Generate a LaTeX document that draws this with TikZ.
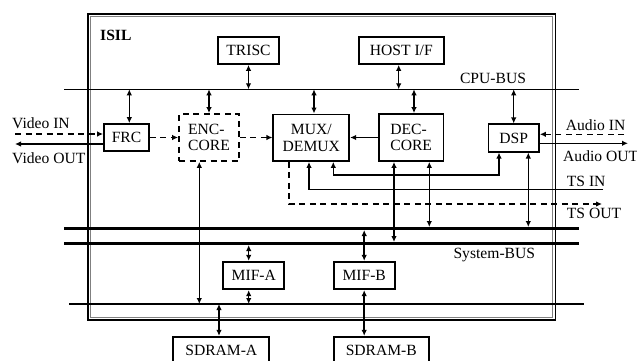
\documentclass[tikz,border=0pt]{standalone}
\usepackage{fontspec}
\setmainfont{Liberation Serif}
\usetikzlibrary{arrows.meta}
\begin{document}
\begin{tikzpicture}[x=1pt,y=-1pt,
  box/.style={draw,line width=1.7pt,inner sep=0pt,align=center},
  dbox/.style={box,dash pattern=on 6pt off 4.5pt},
  conn/.style={line width=1.5pt},
  dconn/.style={conn,dash pattern=on 6pt off 4.5pt},
  arr/.style={-{Latex[length=6pt,width=5.5pt]}},
  both/.style={{Latex[length=6pt,width=5.5pt]}-{Latex[length=6pt,width=5.5pt]}},
  lbl/.style={inner sep=0pt,anchor=west},
  font=\fontsize{15.6}{16.6}\selectfont]
\useasboundingbox (0,0) rectangle (637,361);

% chip outline
\draw[line width=1.6pt] (88,14) rectangle (555.5,320);
\draw[gray,line width=1pt] (90.6,16.6) rectangle (552.9,317.4);
\node[lbl,font=\fontsize{15.6}{16.6}\selectfont\bfseries] (isil) at (100,35) {ISIL};

% buses
\coordinate (cpuL) at (64,89.3);   \coordinate (cpuR) at (578.7,89.3);
\coordinate (sysAL) at (64,228.5); \coordinate (sysAR) at (578.7,228.5);
\coordinate (sysBL) at (64,243.5); \coordinate (sysBR) at (578.7,243.5);
\coordinate (memL) at (69,304);    \coordinate (memR) at (583.7,304);
\draw[line width=1.1pt] (cpuL) -- (cpuR);
\draw[line width=3pt] (sysAL) -- (sysAR);
\draw[line width=3pt] (sysBL) -- (sysBR);
\draw[line width=1.1pt] (memL) -- (memR);
\node[inner sep=0pt] (cpulbl) at (493,78) {CPU-BUS};
\node[inner sep=0pt] (syslbl) at (494.3,255) {System-BUS};

% blocks
\node[box,minimum width=61,minimum height=27] (trisc) at (248.5,50.5) {TRISC};
\node[box,minimum width=85.3,minimum height=27] (host) at (401.3,50.5) {HOST I/F};
\node[box,minimum width=45,minimum height=27] (frc) at (126.5,137.5) {FRC};
\node[dbox,minimum width=60,minimum height=47,align=left] (enc) at (209,137.5) {ENC-\\CORE};
\node[box,minimum width=76,minimum height=46.7] (mux) at (311.3,137.7) {MUX/\\DEMUX};
\node[box,minimum width=64.3,minimum height=47,align=left] (dec) at (411.2,137.5) {DEC-\\CORE};
\node[box,minimum width=50.7,minimum height=27.4] (dsp) at (513.7,138) {DSP};
\node[box,minimum width=61,minimum height=27.6] (mifa) at (253.8,275.5) {MIF-A};
\node[box,minimum width=61,minimum height=27.6] (mifb) at (364.2,275.5) {MIF-B};
\node[box,minimum width=96,minimum height=27] (sdrama) at (221.3,350.2) {SDRAM-A};
\node[box,minimum width=95.3,minimum height=27] (sdramb) at (381.3,350.2) {SDRAM-B};

% CPU-bus connections
\draw[conn,both] (trisc.south) -- (trisc.south |- cpuL);
\draw[conn,both] ([xshift=-2.6]host.south) -- ([xshift=-2.6]host.south |- cpuL);
\draw[conn,both] ([xshift=2.8]frc.north) -- ([xshift=2.8]frc.north |- cpuL);
\draw[conn,both] (enc.north) -- (enc.north |- cpuL);
\draw[conn,both] ([xshift=2.7]mux.north) -- ([xshift=2.7]mux.north |- cpuL);
\draw[conn,both] ([xshift=2.8]dec.north) -- ([xshift=2.8]dec.north |- cpuL);
\draw[conn,both] (dsp.north) -- (dsp.north |- cpuL);

% video
\coordinate (vin) at (15,134);
\coordinate (vout) at (15,144);
\draw[dconn,arr] (vin) -- (vin -| frc.west);
\draw[conn,arr] (frc.west |- vout) -- (vout);
\node[lbl] (vinlbl) at (12,123) {Video IN};
\node[lbl] (voutlbl) at (12,158) {Video OUT};

% audio
\coordinate (ain) at (624,134.3);
\coordinate (aout) at (628,143.3);
\draw[dconn,arr] (ain) -- (ain -| dsp.east);
\draw[conn,arr] (dsp.east |- aout) -- (aout);
\node[lbl] (ainlbl) at (565.7,125) {Audio IN};
\node[lbl] (aoutlbl) at (563,156) {Audio OUT};

% data path
\draw[dconn,arr] (frc.east) -- (enc.west);
\draw[dconn,arr] (enc.east) -- (enc.east -| mux.west);
\draw[conn,arr] (dec.west) -- (dec.west -| mux.east);

% TS in / out, MUX-DSP
\coordinate (tsin) at (603,189.3);
\coordinate (tsout) at (602,204);
\draw[conn,arr] (tsin) -| ([xshift=-2.3]mux.south);
\draw[conn,both] ([xshift=22]mux.south) -- ++(0,13) -| ([xshift=-14.7]dsp.south);
\draw[dconn,arr] ([xshift=-22.3]mux.south) |- (tsout);
\node[lbl] (tsinlbl) at (566.7,181.7) {TS IN};
\node[lbl] (tsoutlbl) at (566.7,213.3) {TS OUT};

% system-bus connections
\draw[conn,both,shorten >=1.5pt] ([xshift=-17.2]dec.south) -- ([xshift=-17.2]dec.south |- sysBL);
\draw[conn,both,shorten >=1.5pt] ([xshift=18.1]dec.south) -- ([xshift=18.1]dec.south |- sysAL);
\draw[conn,both,shorten >=1.5pt] ([xshift=14.6]dsp.south) -- ([xshift=14.6]dsp.south |- sysAL);
\draw[conn,both] ([xshift=-9.7]enc.south) -- ([xshift=-9.7]enc.south |- memL);
\draw[conn,both,shorten >=1.5pt] ([xshift=-5.1]mifa.north) -- ([xshift=-5.1]mifa.north |- sysBL);
\draw[conn,both] ([xshift=-5.1]mifa.south) -- ([xshift=-5.1]mifa.south |- memL);
\draw[conn,both,shorten >=1.5pt] (mifb.north) -- (mifb.north |- sysAL);
\draw[conn,both] (mifb.south) -- (mifb.south |- sdramb.north);
\draw[conn,both] ([xshift=-2.3]sdrama.north) -- ([xshift=-2.3]sdrama.north |- memL);
\end{tikzpicture}
\end{document}
